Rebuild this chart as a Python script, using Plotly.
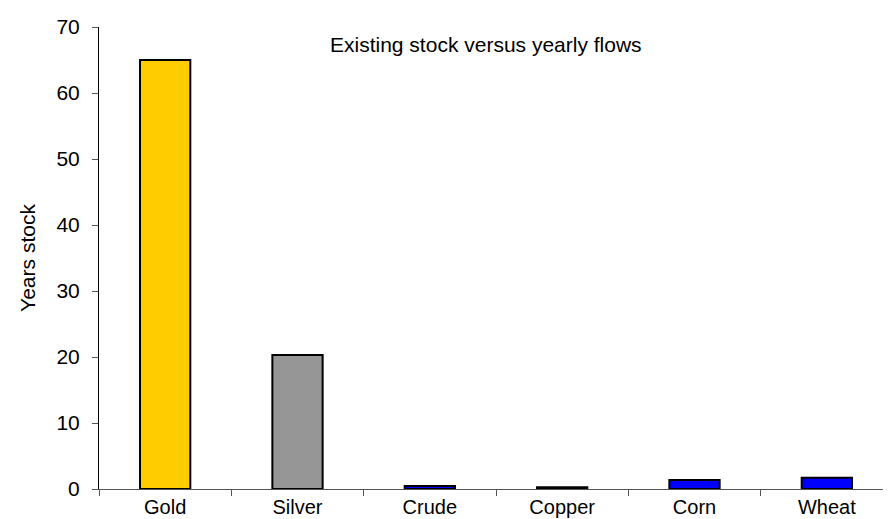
import plotly.graph_objects as go

categories = ["Gold", "Silver", "Crude", "Copper", "Corn", "Wheat"]
years_stock = [65.0, 20.3, 0.45, 0.25, 1.35, 1.7]
bar_colors = ["#FFCC00", "#969696", "#0000FF", "#0000FF", "#0000FF", "#0000FF"]
y_ticks = [0, 10, 20, 30, 40, 50, 60, 70]

FONT = "Liberation Sans, Arial, sans-serif"

fig = go.Figure(
    go.Bar(
        x=categories,
        y=years_stock,
        marker=dict(color=bar_colors, line=dict(color="black", width=2)),
        showlegend=False,
    )
)

fig.update_layout(
    width=891,
    height=519,
    margin=dict(l=91, r=6, t=19, b=38),
    paper_bgcolor="white",
    plot_bgcolor="white",
    bargap=0.62,
    font=dict(family=FONT, size=21, color="black"),
    annotations=[
        dict(
            text="Existing stock versus yearly flows",
            x=0.487, y=0.962, xref="paper", yref="paper",
            xanchor="center", yanchor="middle", showarrow=False,
            font=dict(family=FONT, size=21, color="black"),
        )
    ],
)

fig.update_xaxes(
    showline=True, linecolor="#555555", linewidth=1,
    ticks="outside", ticklen=6, tickcolor="#555555", tickson="boundaries",
    showgrid=False, tickfont=dict(size=20), ticklabelstandoff=0,
)
fig.update_yaxes(
    range=[0, 70], tickvals=y_ticks,
    showline=True, linecolor="black", linewidth=1,
    ticks="outside", ticklen=6, tickcolor="#555555",
    showgrid=False, zeroline=False, tickfont=dict(size=21),
    ticklabelstandoff=8,
    title=dict(text="Years stock", font=dict(size=21), standoff=15),
)

fig.write_html("out.html")
